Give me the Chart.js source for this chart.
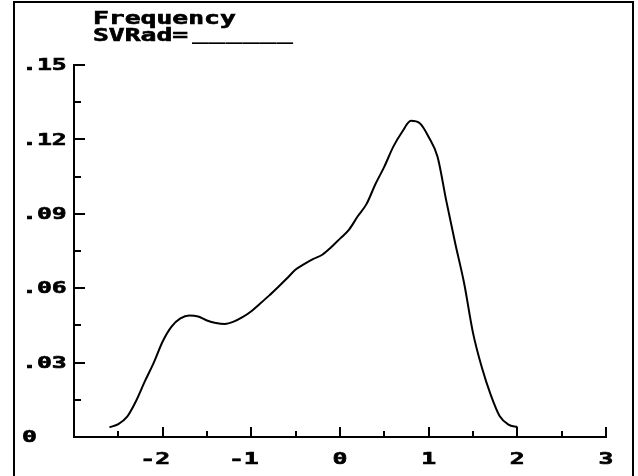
<!DOCTYPE html>
<html>
<head>
<meta charset="utf-8">
<script src="https://cdn.jsdelivr.net/npm/chart.js@4.4.1/dist/chart.umd.min.js"></script>
<style>
html,body{margin:0;padding:0;background:#fff;}
#wrap{width:638px;height:476px;}
</style>
</head>
<body>
<div id="wrap"><canvas id="c" width="638" height="476"></canvas></div>
<script>
// density curve
const xVals=[-2.6,-2.5,-2.4,-2.3,-2.2,-2.1,-2.0,-1.9,-1.8,-1.7,-1.6,-1.5,-1.4,-1.3,-1.2,-1.1,-1.0,-0.9,-0.8,-0.7,-0.6,-0.5,-0.4,-0.3,-0.2,-0.1,0,0.1,0.2,0.3,0.4,0.5,0.6,0.7,0.8,0.9,1.0,1.1,1.2,1.3,1.4,1.5,1.6,1.7,1.8,1.9,2.0];
const freq=[0.0039,0.0052,0.0082,0.0145,0.0225,0.030,0.0385,0.0445,0.0478,0.049,0.0486,0.047,0.046,0.0456,0.0465,0.0483,0.0507,0.0538,0.057,0.0604,0.0639,0.0675,0.0698,0.0718,0.0735,0.0765,0.080,0.0835,0.089,0.094,0.102,0.109,0.117,0.123,0.1275,0.1265,0.121,0.113,0.095,0.078,0.062,0.042,0.028,0.017,0.0085,0.005,0.004];

const xTicks=[-3,-2,-1,0,1,2,3];
const xTickLabels=["","-2","-1","0","1","2","3"];
const yTicks=[0,0.03,0.06,0.09,0.12,0.15];
const yTickLabels=["0",".03",".06",".09",".12",".15"];
const titleText="Frequency";
const fieldText="SVRad=";
const blankText="______";

const MONO="'DejaVu Sans Mono', monospace";
const SX=1.55; // horizontal stretch of the old wide bitmap font

function wideText(ctx,txt,x,y,size){
  ctx.save();
  ctx.font="bold "+size+"px "+MONO;
  ctx.fillStyle='#000'; ctx.strokeStyle='#000'; ctx.lineWidth=0.6;
  ctx.scale(SX,1);
  ctx.fillText(txt,x/SX,y); ctx.strokeText(txt,x/SX,y);
  ctx.restore();
}
function cellWidth(ctx,size){
  ctx.save(); ctx.font="bold "+size+"px "+MONO;
  const w=ctx.measureText("0").width*SX; ctx.restore(); return w;
}

const frame={id:'frame',beforeDraw(chart){
  const ctx=chart.ctx;
  ctx.save();
  ctx.fillStyle='#fff'; ctx.fillRect(0,0,chart.width,chart.height);
  ctx.fillStyle='#000';
  ctx.fillRect(13,1,2,chart.height);
  ctx.fillRect(13,1,621,2);
  ctx.fillRect(632,1,2,chart.height);
  ctx.restore();
},afterDraw(chart){
  const ctx=chart.ctx;
  ctx.save();
  ctx.textBaseline='alphabetic';
  wideText(ctx,titleText,93,24,17);
  wideText(ctx,fieldText,93,41,17);
  ctx.font="bold 17px "+MONO;
  const w=ctx.measureText(blankText).width, k=101/w;
  ctx.fillStyle='#000';
  ctx.scale(k,1);
  ctx.fillText(blankText,192/k,40);
  ctx.restore();
}};

// tick marks (inside) and labels, placed with the chart's scales
const axisTicks={id:'axisTicks',afterDatasetsDraw(chart){
  const {ctx,scales:{x,y}}=chart;
  const ax=chart.chartArea.left, ay=chart.chartArea.bottom;
  ctx.save();
  ctx.strokeStyle='#000'; ctx.lineWidth=2;
  ctx.beginPath();
  yTicks.forEach((v,i)=>{
    if(i>0){ const p=Math.round(y.getPixelForValue(v)); ctx.moveTo(ax,p); ctx.lineTo(ax+11,p); }
    if(i<yTicks.length-1){ const p=Math.round(y.getPixelForValue((v+yTicks[i+1])/2)); ctx.moveTo(ax,p); ctx.lineTo(ax+7,p); }
  });
  xTicks.forEach((v,i)=>{
    if(i>0){ const p=Math.round(x.getPixelForValue(v)); ctx.moveTo(p,ay); ctx.lineTo(p,ay-10); }
    if(i<xTicks.length-1){ const p=Math.round(x.getPixelForValue((v+xTicks[i+1])/2)); ctx.moveTo(p,ay); ctx.lineTo(p,ay-6); }
  });
  ctx.stroke();
  ctx.restore();

  const fs=16, c=cellWidth(ctx,fs);
  ctx.save();
  ctx.textBaseline='middle'; ctx.textAlign='left';
  yTicks.forEach((v,i)=>wideText(ctx,yTickLabels[i],22,y.getPixelForValue(v)+1,fs));
  ctx.textBaseline='alphabetic';
  xTicks.forEach((v,i)=>{
    const s=xTickLabels[i]; if(!s) return;
    wideText(ctx,s,x.getPixelForValue(v)-(s.length-0.5)*c,464,fs);
  });
  ctx.restore();
}};

new Chart(document.getElementById('c'),{
  type:'line',
  data:{datasets:[{
    data:xVals.map((x,i)=>({x,y:freq[i]})),
    borderColor:'#000',borderWidth:2,pointRadius:0,fill:false,
    cubicInterpolationMode:'monotone'
  }]},
  options:{
    responsive:false,animation:false,devicePixelRatio:1,
    layout:{padding:{left:22,top:65,right:32,bottom:0}},
    plugins:{legend:{display:false},tooltip:{enabled:false},title:{display:false}},
    scales:{
      x:{type:'linear',min:-3,max:3,
        afterBuildTicks:s=>{s.ticks=xTicks.map(v=>({value:v}));},
        afterFit:s=>{s.height=39;},
        grid:{display:false,drawTicks:false},
        border:{display:true,color:'#000',width:2},
        ticks:{display:false}},
      y:{type:'linear',min:0,max:0.15,
        afterBuildTicks:s=>{s.ticks=yTicks.map(v=>({value:v}));},
        afterFit:s=>{s.width=52;},
        grid:{display:false,drawTicks:false},
        border:{display:true,color:'#000',width:2},
        ticks:{display:false}}
    }
  },
  plugins:[frame,axisTicks]
});
</script>
</body>
</html>
